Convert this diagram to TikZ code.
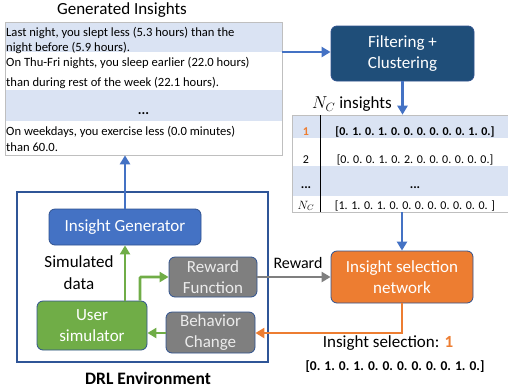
\documentclass[tikz,border=0pt]{standalone}
\usepackage{fontspec}
\setmainfont{Carlito}
\usetikzlibrary{arrows.meta}
\definecolor{rowblue}{HTML}{DAE3F3}
\definecolor{tabline}{HTML}{BFBFBF}
\definecolor{navy}{HTML}{1F4E79}
\definecolor{ablue}{HTML}{4472C4}
\definecolor{edgeblue}{HTML}{2F528F}
\definecolor{drlblue}{HTML}{2F5597}
\definecolor{agreen}{HTML}{70AD47}
\definecolor{agray}{HTML}{7F7F7F}
\definecolor{aorange}{HTML}{ED7D31}
\begin{document}
\begin{tikzpicture}[x=1pt,y=-1pt,
  box/.style={draw=edgeblue, rounded corners=6pt, line width=0.8pt, text=white, align=center,
    font=\fontsize{17}{21}\selectfont, inner sep=0pt},
  tabtxt/.style={anchor=base west, inner sep=0pt, font=\fontsize{12.6}{15}\selectfont},
  rtxt/.style={anchor=base, inner sep=0pt, font=\fontsize{12}{14}\selectfont},
  arr/.style={line width=2.8pt, -{Triangle[length=9pt,width=10pt]}},
  lbl/.style={inner sep=0pt, align=center}
]
\useasboundingbox (0,0) rectangle (508,389);

% ---------- Generated insights table ----------
\node[lbl, font=\fontsize{17}{20}\selectfont] (title) at (122,10) {Generated Insights};
\fill[rowblue] (5,22) rectangle (282,52);
\fill[rowblue] (5,90) rectangle (282,121);
\node[draw=tabline, line width=0.6pt, minimum width=277pt, minimum height=133pt, inner sep=0pt] (tabA) at (143.5,88.5) {};
\node[tabtxt] (l1) at (6,36) {Last night, you slept less (5.3 hours) than the};
\node[tabtxt] (l2) at (6,51) {night before (5.9 hours).};
\node[tabtxt] (l3) at (6,66) {On Thu-Fri nights, you sleep earlier (22.0 hours)};
\node[tabtxt] (l4) at (6,86) {than during rest of the week (22.1 hours).};
\node[anchor=base, inner sep=0pt, font=\fontsize{14}{15}\selectfont\bfseries] (ldots) at (143.5,114) {...};
\node[tabtxt] (l5) at (6,135) {On weekdays, you exercise less (0.0 minutes)};
\node[tabtxt] (l6) at (6,151) {than 60.0.};

% ---------- Filtering + Clustering ----------
\node[box, fill=navy, minimum width=143pt, minimum height=55pt] (filt) at (402.5,53.5) {Filtering +\\Clustering};

% ---------- N_C insights table ----------
\node[lbl, font=\fontsize{17}{20}\selectfont] (nclabel) at (352,104) {$N_C$ insights};
\fill[rowblue] (292,115) rectangle (508,138);
\fill[rowblue] (292,166) rectangle (508,196);
\node[draw=tabline, line width=0.6pt, minimum width=216pt, minimum height=97pt, inner sep=0pt] (tabB) at (400,163.5) {};
\draw[line width=0.8pt] (320,115) -- (320,212);
\node[rtxt, text=aorange, font=\fontsize{12}{14}\selectfont\bfseries] (c1) at (306,135) {1};
\node[rtxt] (c2) at (306,163) {2};
\node[rtxt, font=\fontsize{13}{14}\selectfont\bfseries] (c3) at (306,188) {...};
\node[rtxt] (c4) at (306,209) {$N_C$};
\node[rtxt, font=\fontsize{12}{14}\selectfont\bfseries] (v1) at (415,135) {[0. 1. 0. 1. 0. 0. 0. 0. 0. 0. 1. 0.]};
\node[rtxt] (v2) at (415,163) {[0. 0. 0. 1. 0. 2. 0. 0. 0. 0. 0. 0.]};
\node[rtxt, font=\fontsize{13}{14}\selectfont\bfseries] (v3) at (415,188) {...};
\node[rtxt] (v4) at (415,209) {[1. 1. 0. 1. 0. 0. 0. 0. 0. 0. 0. 0. ]};

% ---------- Insight selection network ----------
\node[box, fill=aorange, draw=edgeblue, minimum width=142pt, minimum height=52pt] (isn) at (402,277) {Insight selection\\network};
\node[lbl, font=\fontsize{17}{19}\selectfont] (sel) at (388,343) {Insight selection: \textcolor{aorange}{\bfseries 1}};
\node[lbl, font=\fontsize{13.5}{16}\selectfont\bfseries] (selvec) at (395,367) {[0. 1. 0. 1. 0. 0. 0. 0. 0. 0. 1. 0.]};

% ---------- DRL environment ----------
\node[draw=drlblue, line width=2pt, minimum width=251pt, minimum height=170pt, inner sep=0pt] (drl) at (142.5,277) {};
\node[lbl, font=\fontsize{17.5}{19}\selectfont\bfseries] (drllabel) at (148,378) {DRL Environment};
\node[box, fill=ablue, minimum width=152pt, minimum height=36pt] (ig) at (125,227) {Insight Generator};
\node[box, fill=agreen, minimum width=110pt, minimum height=49pt] (us) at (92,325.5) {User\\simulator};
\node[box, fill=agray, text=white!92!black, minimum width=88pt, minimum height=40pt] (rf) at (213,277) {Reward\\Function};
\node[box, fill=agray, text=white!92!black, minimum width=89pt, minimum height=41pt] (bc) at (210.5,332.5) {Behavior\\Change};
\node[lbl, font=\fontsize{17}{22}\selectfont] (simdata) at (79,273) {Simulated\\data};

% ---------- connectors ----------
\draw[arr, ablue] (tabA.east |- 0,52) -- (filt.west |- 0,52);
\draw[arr, ablue] (filt.south) -- (filt.south |- tabB.north);
\draw[arr, ablue] (tabB.south -| isn.north) -- (isn.north);
\draw[arr, ablue] (ig.north) -- (ig.north |- tabA.south);
\draw[arr, agreen] (us.north -| ig.south) -- (ig.south);
\draw[arr, agreen, rounded corners=1pt] (us.north -| 140,0) |- (rf.west);
\draw[arr, agreen] (bc.west |- 0,333) -- (us.east |- 0,333);
\draw[arr, agray] (rf.east) -- (isn.west |- rf.east);
\node[lbl, font=\fontsize{16}{18}\selectfont, anchor=base] (rwd) at (298,268) {Reward};
\draw[arr, aorange] (isn.south) |- (bc.east |- 0,333);
\end{tikzpicture}
\end{document}
